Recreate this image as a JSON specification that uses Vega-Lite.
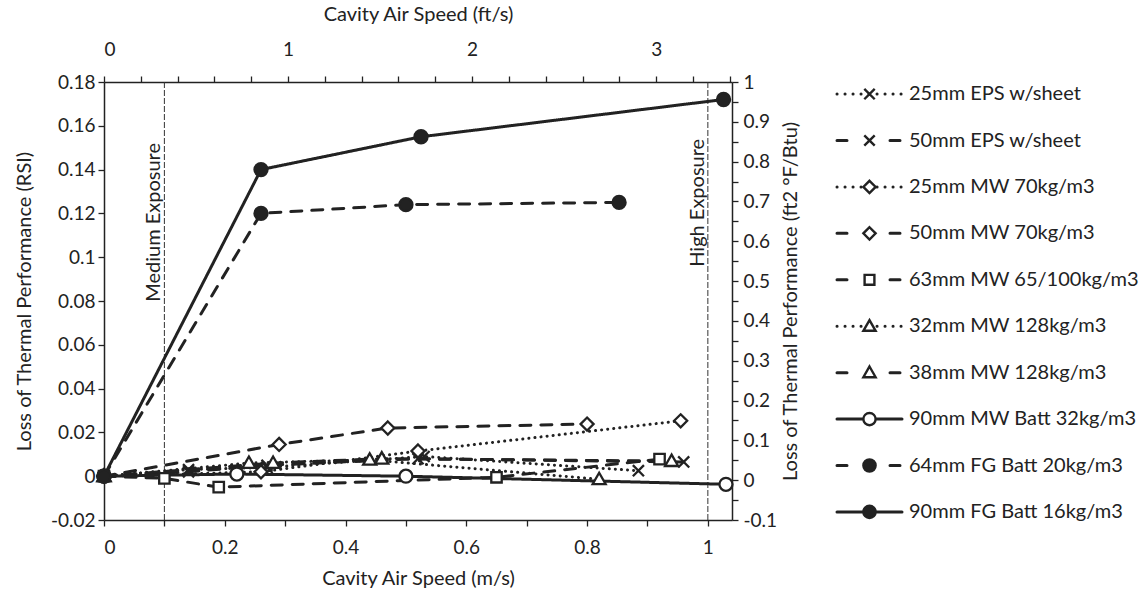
{
  "$schema": "https://vega.github.io/schema/vega-lite/v6.json",
  "background": "white",
  "padding": {"left": 14, "top": 4, "right": 0, "bottom": 0},
  "config": {
    "view": {"stroke": null},
    "font": "Lato",
    "axis": {
      "grid": false,
      "domainColor": "#222", "domainWidth": 1.5,
      "tickColor": "#222", "tickWidth": 1.3, "tickSize": 6,
      "labelFont": "Lato", "labelFontSize": 19, "labelColor": "#222",
      "titleFont": "Lato", "titleFontSize": 20, "titleFontWeight": "normal", "titleColor": "#222"
    },
    "concat": {"spacing": 34}
  },
  "datasets": {
    "thr": [{"v": 0.1}, {"v": 1.0}],
    "pts": [
      {"series": "25mm EPS w/sheet", "v": 0, "val": 0},
      {"series": "25mm EPS w/sheet", "v": 0.14, "val": 0.003},
      {"series": "25mm EPS w/sheet", "v": 0.27, "val": 0.004},
      {"series": "25mm EPS w/sheet", "v": 0.53, "val": 0.009},
      {"series": "25mm EPS w/sheet", "v": 0.885, "val": 0.0025},
      {"series": "50mm EPS w/sheet", "v": 0, "val": 0},
      {"series": "50mm EPS w/sheet", "v": 0.14, "val": 0.002},
      {"series": "50mm EPS w/sheet", "v": 0.27, "val": 0.005},
      {"series": "50mm EPS w/sheet", "v": 0.52, "val": 0.008},
      {"series": "50mm EPS w/sheet", "v": 0.96, "val": 0.0065},
      {"series": "25mm MW 70kg/m3", "v": 0, "val": 0},
      {"series": "25mm MW 70kg/m3", "v": 0.26, "val": 0.002},
      {"series": "25mm MW 70kg/m3", "v": 0.52, "val": 0.0115},
      {"series": "25mm MW 70kg/m3", "v": 0.955, "val": 0.0253},
      {"series": "50mm MW 70kg/m3", "v": 0, "val": 0},
      {"series": "50mm MW 70kg/m3", "v": 0.29, "val": 0.0145},
      {"series": "50mm MW 70kg/m3", "v": 0.47, "val": 0.022},
      {"series": "50mm MW 70kg/m3", "v": 0.8, "val": 0.0238},
      {"series": "63mm MW 65/100kg/m3", "v": 0, "val": 0},
      {"series": "63mm MW 65/100kg/m3", "v": 0.1, "val": -0.001},
      {"series": "63mm MW 65/100kg/m3", "v": 0.19, "val": -0.005},
      {"series": "63mm MW 65/100kg/m3", "v": 0.65, "val": -0.0005},
      {"series": "63mm MW 65/100kg/m3", "v": 0.92, "val": 0.0078},
      {"series": "32mm MW 128kg/m3", "v": 0, "val": 0},
      {"series": "32mm MW 128kg/m3", "v": 0.24, "val": 0.006},
      {"series": "32mm MW 128kg/m3", "v": 0.44, "val": 0.0075},
      {"series": "32mm MW 128kg/m3", "v": 0.82, "val": -0.0014},
      {"series": "38mm MW 128kg/m3", "v": 0, "val": 0},
      {"series": "38mm MW 128kg/m3", "v": 0.28, "val": 0.006},
      {"series": "38mm MW 128kg/m3", "v": 0.46, "val": 0.008},
      {"series": "38mm MW 128kg/m3", "v": 0.94, "val": 0.0069},
      {"series": "90mm MW Batt 32kg/m3", "v": 0, "val": 0},
      {"series": "90mm MW Batt 32kg/m3", "v": 0.22, "val": 0.001},
      {"series": "90mm MW Batt 32kg/m3", "v": 0.5, "val": 0.0},
      {"series": "90mm MW Batt 32kg/m3", "v": 1.03, "val": -0.0037},
      {"series": "64mm FG Batt 20kg/m3", "v": 0, "val": 0},
      {"series": "64mm FG Batt 20kg/m3", "v": 0.26, "val": 0.12},
      {"series": "64mm FG Batt 20kg/m3", "v": 0.5, "val": 0.124},
      {"series": "64mm FG Batt 20kg/m3", "v": 0.853, "val": 0.125},
      {"series": "90mm FG Batt 16kg/m3", "v": 0, "val": 0},
      {"series": "90mm FG Batt 16kg/m3", "v": 0.26, "val": 0.14},
      {"series": "90mm FG Batt 16kg/m3", "v": 0.525, "val": 0.155},
      {"series": "90mm FG Batt 16kg/m3", "v": 1.026, "val": 0.172}
    ],
    "leg": [
      {"series": "25mm EPS w/sheet"},
      {"series": "50mm EPS w/sheet"},
      {"series": "25mm MW 70kg/m3"},
      {"series": "50mm MW 70kg/m3"},
      {"series": "63mm MW 65/100kg/m3"},
      {"series": "32mm MW 128kg/m3"},
      {"series": "38mm MW 128kg/m3"},
      {"series": "90mm MW Batt 32kg/m3"},
      {"series": "64mm FG Batt 20kg/m3"},
      {"series": "90mm FG Batt 16kg/m3"}
    ]
  },
  "resolve": {"scale": {"x": "independent", "y": "independent", "shape": "independent", "fill": "independent", "strokeDash": "independent"}},
  "hconcat": [
    {
      "width": 628,
      "height": 438,
      "layer": [
        {
          "layer": [
            {
              "data": {"name": "thr"},
              "mark": {"type": "rule", "color": "#333", "strokeWidth": 1, "strokeDash": [6, 2]},
              "encoding": {
                "x": {"field": "v", "type": "quantitative"}
              }
            },
            {
              "data": {"name": "pts"},
              "mark": {"type": "line", "color": "#222", "strokeWidth": 3, "strokeCap": "round"},
              "encoding": {
                "x": {"field": "v", "type": "quantitative",
                  "scale": {"domain": [0, 1.04], "nice": false, "zero": false},
                  "axis": {"orient": "bottom", "title": "Cavity Air Speed (m/s)",
                    "values": [0, 0.1, 0.2, 0.3, 0.4, 0.5, 0.6, 0.7, 0.8, 0.9, 1.0],
                    "labelExpr": "abs(datum.value*5-round(datum.value*5))<0.001 ? format(datum.value,'~g') : ''",
                    "labelPadding": 12, "titlePadding": 11}},
                "y": {"field": "val", "type": "quantitative",
                  "scale": {"domain": [-0.02, 0.18], "nice": false, "zero": false},
                  "axis": {"orient": "left", "title": "Loss of Thermal Performance (RSI)",
                    "values": [-0.02, -0.01, 0, 0.01, 0.02, 0.03, 0.04, 0.05, 0.06, 0.07, 0.08, 0.09, 0.1, 0.11, 0.12, 0.13, 0.14, 0.15, 0.16, 0.17, 0.18],
                    "labelExpr": "abs(datum.value*50-round(datum.value*50))<0.001 ? replace(format(datum.value,'~g'),'−','-') : ''",
                    "labelPadding": 3, "titlePadding": 16}},
                "detail": {"field": "series", "type": "nominal"},
                "strokeDash": {"field": "series", "type": "nominal", "legend": null,
                  "scale": {
                    "domain": ["25mm EPS w/sheet", "50mm EPS w/sheet", "25mm MW 70kg/m3", "50mm MW 70kg/m3", "63mm MW 65/100kg/m3", "32mm MW 128kg/m3", "38mm MW 128kg/m3", "90mm MW Batt 32kg/m3", "64mm FG Batt 20kg/m3", "90mm FG Batt 16kg/m3"],
                    "range": [[0.1, 6], [11, 10], [0.1, 6], [11, 10], [11, 10], [0.1, 6], [11, 10], [1, 0], [11, 10], [1, 0]]
                  }}
              }
            },
            {
              "data": {"name": "pts"},
              "mark": {"type": "point", "stroke": "#222", "strokeWidth": 2.3, "opacity": 1, "size": 170},
              "encoding": {
                "x": {"field": "v", "type": "quantitative"},
                "y": {"field": "val", "type": "quantitative"},
                "shape": {"field": "series", "type": "nominal", "legend": null,
                  "scale": {
                    "domain": ["25mm EPS w/sheet", "50mm EPS w/sheet", "25mm MW 70kg/m3", "50mm MW 70kg/m3", "63mm MW 65/100kg/m3", "32mm MW 128kg/m3", "38mm MW 128kg/m3", "90mm MW Batt 32kg/m3", "64mm FG Batt 20kg/m3", "90mm FG Batt 16kg/m3"],
                    "range": ["M-0.85,-0.85L0.85,0.85M-0.85,0.85L0.85,-0.85", "M-0.85,-0.85L0.85,0.85M-0.85,0.85L0.85,-0.85", "M0,-1L1,0L0,1L-1,0Z", "M0,-1L1,0L0,1L-1,0Z", "M-0.8,-0.8L0.8,-0.8L0.8,0.8L-0.8,0.8Z", "M0,-1L1,0.75L-1,0.75Z", "M0,-1L1,0.75L-1,0.75Z", "circle", "circle", "circle"]
                  }},
                "fill": {"field": "series", "type": "nominal", "legend": null,
                  "scale": {
                    "domain": ["25mm EPS w/sheet", "50mm EPS w/sheet", "25mm MW 70kg/m3", "50mm MW 70kg/m3", "63mm MW 65/100kg/m3", "32mm MW 128kg/m3", "38mm MW 128kg/m3", "90mm MW Batt 32kg/m3", "64mm FG Batt 20kg/m3", "90mm FG Batt 16kg/m3"],
                    "range": ["white", "white", "white", "white", "white", "white", "white", "white", "#222", "#222"]
                  }}
              }
            },
            {
              "data": {"values": [{"v": 0.1, "label": "Medium Exposure"}]},
              "mark": {"type": "text", "angle": 270, "align": "left", "baseline": "bottom", "dx": -3, "font": "Lato", "fontSize": 20, "color": "#222"},
              "encoding": {
                "x": {"field": "v", "type": "quantitative"},
                "y": {"datum": 0.081},
                "text": {"field": "label"}
              }
            },
            {
              "data": {"values": [{"v": 1.0, "label": "High Exposure"}]},
              "mark": {"type": "text", "angle": 270, "align": "left", "baseline": "bottom", "dx": -3, "font": "Lato", "fontSize": 20, "color": "#222"},
              "encoding": {
                "x": {"field": "v", "type": "quantitative"},
                "y": {"datum": 0.097},
                "text": {"field": "label"}
              }
            }
          ]
        },
        {
          "data": {"values": [{"ft": 0}, {"ft": 3.412}]},
          "mark": {"type": "point", "opacity": 0},
          "encoding": {
            "x": {"field": "ft", "type": "quantitative",
              "scale": {"domain": [0, 3.412], "nice": false, "zero": false},
              "axis": {"orient": "top", "title": "Cavity Air Speed (ft/s)",
                "values": [0, 0.2, 0.4, 0.6, 0.8, 1, 1.2, 1.4, 1.6, 1.8, 2, 2.2, 2.4, 2.6, 2.8, 3, 3.2, 3.4],
                "labelExpr": "abs(datum.value-round(datum.value))<0.001 ? format(datum.value,'~g') : ''",
                "labelPadding": 17, "titlePadding": 16}}
          }
        },
        {
          "data": {"values": [{"r": -0.1}, {"r": 1}]},
          "mark": {"type": "point", "opacity": 0},
          "encoding": {
            "y": {"field": "r", "type": "quantitative",
              "scale": {"domain": [-0.1, 1], "nice": false, "zero": false},
              "axis": {"orient": "right", "title": "Loss of Thermal Performance (ft2 °F/Btu)",
                "values": [-0.1, -0.05, 0, 0.05, 0.1, 0.15, 0.2, 0.25, 0.3, 0.35, 0.4, 0.45, 0.5, 0.55, 0.6, 0.65, 0.7, 0.75, 0.8, 0.85, 0.9, 0.95, 1],
                "labelExpr": "abs(datum.value*10-round(datum.value*10))<0.001 ? replace(format(datum.value,'~g'),'−','-') : ''",
                "titleAngle": 270, "labelPadding": 5, "titlePadding": 24}}
          }
        }
      ],
      "resolve": {"scale": {"x": "independent", "y": "independent"}}
    },
    {
      "width": 65,
      "height": 442,
      "data": {"name": "leg"},
      "encoding": {
        "y": {"field": "series", "type": "nominal", "axis": null,
          "sort": ["25mm EPS w/sheet", "50mm EPS w/sheet", "25mm MW 70kg/m3", "50mm MW 70kg/m3", "63mm MW 65/100kg/m3", "32mm MW 128kg/m3", "38mm MW 128kg/m3", "90mm MW Batt 32kg/m3", "64mm FG Batt 20kg/m3", "90mm FG Batt 16kg/m3"],
          "scale": {"type": "point", "padding": 0.26}}
      },
      "layer": [
        {
          "mark": {"type": "rule", "color": "#222", "strokeWidth": 3, "strokeCap": "round"},
          "encoding": {
            "x": {"datum": 0, "type": "quantitative", "scale": {"domain": [0, 1], "nice": false}, "axis": null},
            "x2": {"datum": 1},
            "strokeDash": {"field": "series", "type": "nominal", "legend": null,
              "scale": {
                "domain": ["25mm EPS w/sheet", "50mm EPS w/sheet", "25mm MW 70kg/m3", "50mm MW 70kg/m3", "63mm MW 65/100kg/m3", "32mm MW 128kg/m3", "38mm MW 128kg/m3", "90mm MW Batt 32kg/m3", "64mm FG Batt 20kg/m3", "90mm FG Batt 16kg/m3"],
                "range": [[0.1, 7.9], [10, 43], [0.1, 7.9], [10, 43], [10, 43], [0.1, 7.9], [10, 43], [1, 0], [10, 43], [1, 0]]
              }}
          }
        },
        {
          "mark": {"type": "point", "stroke": "#222", "strokeWidth": 2.4, "opacity": 1, "size": 150},
          "encoding": {
            "x": {"datum": 0.5, "type": "quantitative"},
            "shape": {"field": "series", "type": "nominal", "legend": null,
              "scale": {
                "domain": ["25mm EPS w/sheet", "50mm EPS w/sheet", "25mm MW 70kg/m3", "50mm MW 70kg/m3", "63mm MW 65/100kg/m3", "32mm MW 128kg/m3", "38mm MW 128kg/m3", "90mm MW Batt 32kg/m3", "64mm FG Batt 20kg/m3", "90mm FG Batt 16kg/m3"],
                "range": ["M-0.85,-0.85L0.85,0.85M-0.85,0.85L0.85,-0.85", "M-0.85,-0.85L0.85,0.85M-0.85,0.85L0.85,-0.85", "M0,-1L1,0L0,1L-1,0Z", "M0,-1L1,0L0,1L-1,0Z", "M-0.8,-0.8L0.8,-0.8L0.8,0.8L-0.8,0.8Z", "M0,-1L1,0.75L-1,0.75Z", "M0,-1L1,0.75L-1,0.75Z", "circle", "circle", "circle"]
              }},
            "fill": {"field": "series", "type": "nominal", "legend": null,
              "scale": {
                "domain": ["25mm EPS w/sheet", "50mm EPS w/sheet", "25mm MW 70kg/m3", "50mm MW 70kg/m3", "63mm MW 65/100kg/m3", "32mm MW 128kg/m3", "38mm MW 128kg/m3", "90mm MW Batt 32kg/m3", "64mm FG Batt 20kg/m3", "90mm FG Batt 16kg/m3"],
                "range": ["white", "white", "white", "white", "white", "white", "white", "white", "#222", "#222"]
              }}
          }
        },
        {
          "mark": {"type": "text", "align": "left", "baseline": "middle", "dx": 7, "font": "Lato", "fontSize": 20, "color": "#222"},
          "encoding": {
            "x": {"datum": 1, "type": "quantitative"},
            "text": {"field": "series"}
          }
        }
      ]
    }
  ]
}
